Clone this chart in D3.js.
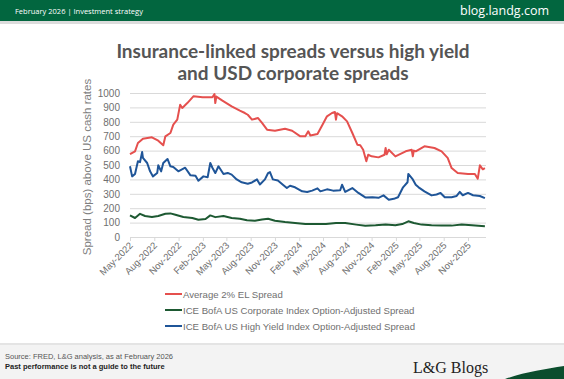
<!DOCTYPE html>
<html>
<head>
<meta charset="utf-8">
<script src="https://cdn.jsdelivr.net/npm/d3@7"></script>
<style>
  body { margin: 0; background: #fff; }
  svg { display: block; }
</style>
</head>
<body>
<div id="chart"></div>
<script>
// series (date, bps)
const elSpread = [
  ["2022-05-01",575],["2022-05-20",595],["2022-05-31",653],["2022-06-19",683],["2022-07-23",692],
  ["2022-08-16",669],["2022-09-04",637],["2022-09-12",699],["2022-10-01",722],["2022-10-12",780],
  ["2022-10-27",815],["2022-11-07",919],["2022-11-15",896],["2022-12-04",930],["2022-12-27",977],
  ["2023-01-31",970],["2023-03-09",970],["2023-03-17",993],["2023-03-20",930],["2023-03-24",975],
  ["2023-04-16",947],["2023-05-21",907],["2023-06-21",877],["2023-07-10",861],["2023-07-21",849],
  ["2023-08-06",815],["2023-08-29",826],["2023-09-13",792],["2023-10-02",745],["2023-11-01",738],
  ["2023-12-09",752],["2024-01-05",738],["2024-02-05",699],["2024-02-24",699],["2024-03-06",734],
  ["2024-03-14",705],["2024-04-10",715],["2024-04-29",780],["2024-05-16",838],["2024-06-04",861],
  ["2024-06-15",868],["2024-06-19",815],["2024-06-23",860],["2024-07-12",838],["2024-07-31",803],
  ["2024-08-20",722],["2024-09-08",641],["2024-09-19",637],["2024-09-30",606],["2024-10-12",526],
  ["2024-10-19",571],["2024-11-01",560],["2024-11-27",553],["2024-12-20",571],["2024-12-24",618],
  ["2024-12-28",575],["2025-01-05",606],["2025-01-30",560],["2025-03-10",595],["2025-04-02",606],
  ["2025-04-06",560],["2025-04-10",600],["2025-04-17",595],["2025-05-20",630],["2025-06-27",618],
  ["2025-07-24",595],["2025-08-16",549],["2025-08-31",479],["2025-09-23",444],["2025-11-01",438],
  ["2025-11-27",438],["2025-12-08",405],["2025-12-16",498],["2025-12-27",470],["2026-01-04",479]
];
const corpOAS = [
  ["2022-05-01",150],["2022-05-20",132],["2022-06-08",161],["2022-06-27",146],["2022-07-23",139],
  ["2022-08-16",146],["2022-09-12",161],["2022-10-01",164],["2022-10-20",155],["2022-11-19",139],
  ["2022-12-23",132],["2023-01-15",120],["2023-02-11",125],["2023-03-01",150],["2023-03-20",138],
  ["2023-04-20",146],["2023-05-21",132],["2023-06-21",127],["2023-07-18",116],["2023-08-17",113],
  ["2023-09-13",122],["2023-10-06",127],["2023-11-01",113],["2023-12-09",104],["2024-01-16",97],
  ["2024-02-24",90],["2024-04-02",90],["2024-05-12",90],["2024-06-19",97],["2024-07-24",97],
  ["2024-09-04",86],["2024-10-08",78],["2024-11-16",81],["2024-12-24",86],["2025-01-30",81],
  ["2025-02-25",90],["2025-03-20",109],["2025-04-10",97],["2025-05-09",86],["2025-06-16",81],
  ["2025-07-24",79],["2025-08-31",79],["2025-10-08",86],["2025-11-16",81],["2026-01-04",74]
];
const hyOAS = [
  ["2022-05-01",491],["2022-05-09",421],["2022-05-20",438],["2022-05-31",526],["2022-06-08",520],
  ["2022-06-16",590],["2022-06-19",549],["2022-07-05",514],["2022-07-16",456],["2022-07-27",421],
  ["2022-08-12",444],["2022-08-16",498],["2022-08-27",456],["2022-09-04",514],["2022-09-20",542],
  ["2022-10-01",491],["2022-10-12",486],["2022-10-31",456],["2022-11-26",481],["2022-12-16",428],
  ["2023-01-04",425],["2023-01-15",391],["2023-02-03",421],["2023-02-19",415],["2023-03-01",514],
  ["2023-03-09",481],["2023-03-20",444],["2023-04-01",491],["2023-04-20",438],["2023-05-06",445],
  ["2023-05-21",433],["2023-06-09",400],["2023-06-28",380],["2023-07-21",370],["2023-08-06",379],
  ["2023-08-25",400],["2023-09-05",365],["2023-09-24",400],["2023-10-06",444],["2023-10-13",451],
  ["2023-10-24",400],["2023-11-12",392],["2023-12-01",363],["2023-12-16",340],["2023-12-28",356],
  ["2024-01-16",345],["2024-02-12",317],["2024-03-02",313],["2024-03-21",322],["2024-04-10",338],
  ["2024-04-21",317],["2024-05-16",331],["2024-06-08",322],["2024-07-05",325],["2024-07-12",363],
  ["2024-07-24",313],["2024-08-20",340],["2024-09-12",306],["2024-10-08",275],["2024-11-04",276],
  ["2024-11-27",272],["2024-12-16",289],["2025-01-05",259],["2025-01-24",265],["2025-02-09",276],
  ["2025-02-28",345],["2025-03-17",380],["2025-03-20",438],["2025-04-06",400],["2025-04-17",363],
  ["2025-04-28",345],["2025-05-20",317],["2025-06-16",289],["2025-07-05",295],["2025-07-20",306],
  ["2025-08-05",276],["2025-08-31",276],["2025-09-19",285],["2025-10-01",313],["2025-10-12",290],
  ["2025-11-01",306],["2025-11-20",290],["2025-12-16",285],["2026-01-04",270]
];
const yTicks = [0,100,200,300,400,500,600,700,800,900,1000];
const xTicks = ["2022-05-01","2022-08-01","2022-11-01","2023-02-01","2023-05-01","2023-08-01","2023-11-01",
  "2024-02-01","2024-05-01","2024-08-01","2024-11-01","2025-02-01","2025-05-01","2025-08-01","2025-11-01"];
const seriesNames = ["Average 2% EL Spread","ICE BofA US Corporate Index Option-Adjusted Spread","ICE BofA US High Yield Index Option-Adjusted Spread"];

const W = 564, H = 379;
const parse = d3.timeParse("%Y-%m-%d");
const svg = d3.select("#chart").append("svg").attr("width", W).attr("height", H);

// header bar
svg.append("rect").attr("x", 0).attr("y", 21).attr("width", W).attr("height", 3).attr("fill", "#dcdcdc");
svg.append("rect").attr("x", 0).attr("y", 0).attr("width", W).attr("height", 21).attr("fill", "#02663f");
svg.append("text").attr("x", 15).attr("y", 13.5).attr("fill", "#fff")
  .style("font", "7.5px 'Open Sans', sans-serif").text("February 2026 |  Investment strategy");
svg.append("text").attr("x", 549).attr("y", 15).attr("fill", "#fff").attr("text-anchor", "end")
  .style("font", "12.5px 'Open Sans', sans-serif").text("blog.landg.com");

// title
const title = svg.append("text").attr("text-anchor", "middle").attr("fill", "#555")
  .style("font", "bold 19px Lato, sans-serif");
title.append("tspan").attr("x", 293).attr("y", 58).text("Insurance-linked spreads versus high yield");
title.append("tspan").attr("x", 293).attr("y", 80).text("and USD corporate spreads");

// scales
const x = d3.scaleTime().domain([parse("2022-05-01"), parse("2025-11-01")]).range([130, 468]);
const y = d3.scaleLinear().domain([0, 1000]).range([237, 93]);
const plotRight = 486;

// y grid + labels
const yAxis = svg.append("g").attr("transform", "translate(130,0)")
  .call(d3.axisLeft(y).tickValues(yTicks).tickFormat(d3.format("d")).tickSize(-(plotRight - 130)).tickPadding(10));
yAxis.select(".domain").remove();
yAxis.selectAll("line").attr("stroke", "#d9d9d9").attr("stroke-width", 1);
yAxis.selectAll("text").attr("fill", "#6f6f6f").style("font", "10px 'Liberation Sans', Arial, sans-serif");

// x axis
const xAxis = svg.append("g").attr("transform", "translate(0,237)")
  .call(d3.axisBottom(x).tickValues(xTicks.map(parse)).tickFormat(d3.timeFormat("%b-%Y")).tickSize(4));
xAxis.select(".domain").attr("d", `M130,0.5H${plotRight}`).attr("stroke", "#d9d9d9");
xAxis.selectAll("line").attr("stroke", "#d9d9d9");
xAxis.selectAll("text").attr("fill", "#6f6f6f").style("font", "9.5px 'Liberation Sans', Arial, sans-serif")
  .attr("text-anchor", "end").attr("dy", null).attr("y", 0)
  .attr("transform", "translate(3,9) rotate(-45)");

// y axis title
svg.append("text").attr("transform", "translate(91,167) rotate(-90)").attr("text-anchor", "middle")
  .attr("fill", "#7f7f7f").style("font", "11.5px 'Liberation Sans', Arial, sans-serif")
  .text("Spread (bps) above US cash rates");

// lines
const colors = ["#e5504e", "#1d5932", "#1f5598"];
const line = d3.line().x(d => x(parse(d[0]))).y(d => y(d[1]));
[elSpread, corpOAS, hyOAS].forEach((s, i) => {
  svg.append("path").datum(s).attr("d", line).attr("fill", "none")
    .attr("stroke", colors[i]).attr("stroke-width", 2).attr("stroke-linejoin", "round");
});

// legend
seriesNames.forEach((n, i) => {
  const ly = 294 + i * 16;
  svg.append("line").attr("x1", 165).attr("x2", 182).attr("y1", ly).attr("y2", ly)
    .attr("stroke", colors[i]).attr("stroke-width", 2);
  svg.append("text").attr("x", 183).attr("y", ly + 3.5).attr("fill", "#6f6f6f")
    .style("font", "9.6px 'Liberation Sans', Arial, sans-serif").text(n);
});

// footer
svg.append("rect").attr("x", 0).attr("y", 343).attr("width", W).attr("height", 36).attr("fill", "#f3f3f3");
svg.append("rect").attr("x", 0).attr("y", 343).attr("width", W).attr("height", 2).attr("fill", "#e4e4e4");
svg.append("text").attr("x", 5).attr("y", 359).attr("fill", "#555")
  .style("font", "7.5px 'Liberation Sans', Arial, sans-serif").text("Source: FRED, L&G analysis, as at February 2026");
svg.append("text").attr("x", 5).attr("y", 369).attr("fill", "#222")
  .style("font", "bold 7.5px 'Liberation Sans', Arial, sans-serif").text("Past performance is not a guide to the future");
svg.append("text").attr("x", 413).attr("y", 373).attr("fill", "#222")
  .style("font", "16px 'Liberation Serif', serif").text("L&G Blogs");
svg.append("path").attr("d", "M505,379 C525,372 545,369 564,366 L564,379 Z").attr("fill", "#0b4d2d");
</script>
</body>
</html>
